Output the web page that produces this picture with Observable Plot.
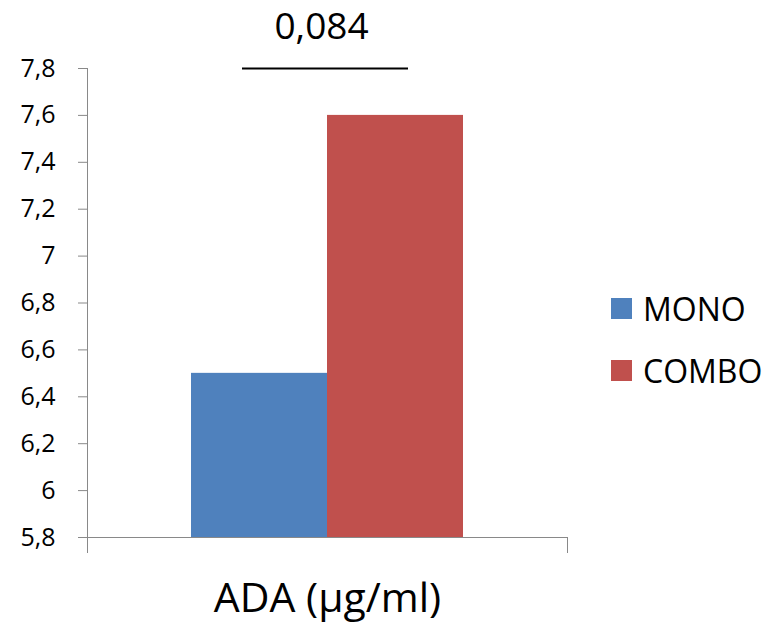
<!DOCTYPE html>
<html>
<head>
<meta charset="utf-8">
<script src="https://cdn.jsdelivr.net/npm/d3@7"></script>
<script src="https://cdn.jsdelivr.net/npm/@observablehq/plot@0.6"></script>
<style>
  html, body { margin: 0; padding: 0; background: #fff; }
  #wrap { position: relative; width: 767px; height: 623px; font-family: "Open Sans", sans-serif; }
  .legend-row { position: absolute; left: 611px; display: flex; align-items: center; font-size: 32px; color: #000; line-height: 1; }
  .legend-row .sw { width: 21px; height: 21px; margin-right: 11px; }
</style>
</head>
<body>
<div id="wrap"></div>
<script>
const categories = ["MONO", "COMBO"];
const values = [6.5, 7.6];
const colors = ["#4F81BD", "#C0504D"];
const groupLabel = ["ADA (µg/ml)"];
const yTicks = [5.8, 6, 6.2, 6.4, 6.6, 6.8, 7, 7.2, 7.4, 7.6, 7.8];
const yTickLabels = ["5,8", "6", "6,2", "6,4", "6,6", "6,8", "7", "7,2", "7,4", "7,6", "7,8"];
const pValues = ["0,084"];

const yMin = yTicks[0], yMax = yTicks[yTicks.length - 1];
const data = categories.map((c, i) => ({series: c, value: values[i]}));
const brackets = [{from: categories[0], to: categories[1], y: yMax, label: pValues[0]}];
const gray = "#898989";

const chart = Plot.plot({
  width: 767,
  height: 623,
  marginLeft: 87,
  marginRight: 200,
  marginTop: 68,
  marginBottom: 86,
  style: {fontFamily: "Open Sans, sans-serif", background: "#fff", color: "#000", overflow: "visible"},
  x: {domain: categories, paddingInner: 0, paddingOuter: 0.752, axis: null},
  y: {domain: [yMin, yMax], axis: null},
  color: {domain: categories, range: colors},
  marks: [
    Plot.barY(data, {x: "series", y1: () => yMin, y2: "value", fill: "series"}),
    Plot.axisY(yTicks, {tickFormat: d => yTickLabels[yTicks.indexOf(d)], tickSize: 9, tickPadding: 23, fontSize: 25, stroke: gray, fill: "#000"}),
    Plot.frame({anchor: "left", stroke: gray, insetBottom: -15}),
    Plot.frame({anchor: "right", stroke: gray, insetTop: 469, insetBottom: -15}),
    Plot.ruleY([yMin], {stroke: gray}),
    Plot.ruleY(brackets, {y: "y", x1: "from", x2: "to", stroke: "#000", strokeWidth: 2, insetLeft: 51, insetRight: 55}),
    Plot.text(brackets, {text: "label", frameAnchor: "top", dx: -6, dy: -41, lineAnchor: "middle", fontSize: 37, fill: "#000"}),
    Plot.text(groupLabel, {text: d => d, frameAnchor: "bottom", dy: 61, lineAnchor: "middle", fontSize: 41, fill: "#000"})
  ]
});

const wrap = document.getElementById("wrap");
wrap.appendChild(chart);

const legendTops = [298, 360];
categories.forEach((c, i) => {
  const row = document.createElement("div");
  row.className = "legend-row";
  row.style.top = (legendTops[i] - 8) + "px";
  row.style.height = "37px";
  const sw = document.createElement("span");
  sw.className = "sw";
  sw.style.background = colors[i];
  const tx = document.createElement("span");
  tx.textContent = c;
  row.appendChild(sw);
  row.appendChild(tx);
  wrap.appendChild(row);
});
</script>
</body>
</html>
